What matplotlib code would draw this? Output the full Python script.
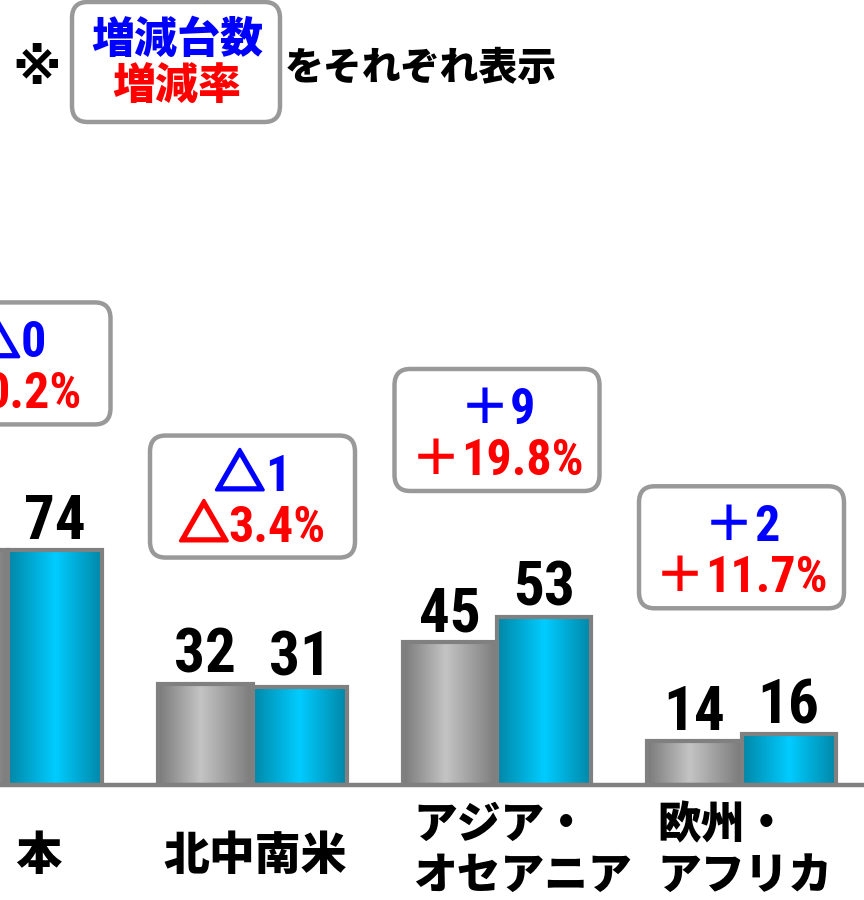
import numpy as np
import matplotlib
matplotlib.use("Agg")
import matplotlib.pyplot as plt
import matplotlib.patheffects as pe
from matplotlib import font_manager
from matplotlib.patches import FancyBboxPatch
from matplotlib.colors import LinearSegmentedColormap

# ---------------- data ----------------
categories = ["日 本", "北中南米", "アジア・\nオセアニア", "欧州・\nアフリカ"]
prev_values = [74, 32, 45, 14]
curr_values = [74, 31, 53, 16]
delta_units = ["△0", "△1", "＋9", "＋2"]
delta_rates = ["△0.2%", "△3.4%", "＋19.8%", "＋11.7%"]
legend_units = "増減台数"
legend_rates = "増減率"
legend_suffix = "をそれぞれ表示"

# ---------------- fonts ----------------
names = {f.name for f in font_manager.fontManager.ttflist}
NUM_FONT = "DejaVu Sans"
for cand in ["Arial Narrow", "Liberation Sans Narrow", "Roboto Condensed",
             "Archivo Narrow", "PT Sans Narrow", "Sofia Sans Condensed"]:
    if cand in names:
        NUM_FONT = cand
        break
JP = "Noto Sans CJK JP"
NUM_FAMILY = [NUM_FONT, JP, "DejaVu Sans"]
JP_FAMILY = [JP, "DejaVu Sans"]
JP_WEIGHT = 900

W, H = 864, 900
fig = plt.figure(figsize=(W / 100, H / 100), dpi=100)
fig.patch.set_facecolor("white")
renderer = fig.canvas.get_renderer()

def fx(px):
    return px / W

def fy(py):
    return 1 - py / H

# axes: baseline at pixel row 785
base_px = 785
y_unit_px = 3.17
ax = fig.add_axes([0, (H - base_px) / H, 1, base_px / H])
ax.set_axis_off()
x_unit_px = 244.5
x0_px = 8
XLIM = (-x0_px / x_unit_px, (W - x0_px) / x_unit_px)
YLIM = (0, base_px / y_unit_px)

x = np.arange(len(categories))
w = 0.385

gray_cmap = LinearSegmentedColormap.from_list(
    "g", [(0, "#7a7a7a"), (0.45, "#c4c4c4"), (1, "#7a7a7a")])
cyan_cmap = LinearSegmentedColormap.from_list(
    "c", [(0, "#0086a6"), (0.5, "#00ccff"), (1, "#0086a6")])

grad = np.linspace(0, 1, 256).reshape(1, -1)

def draw_bars(xpos, vals, cmap):
    bars = ax.bar(xpos, vals, w, facecolor="none", edgecolor="#808080",
                  linewidth=3, zorder=3)
    for b in bars:
        bx, by = b.get_x(), b.get_y()
        im = ax.imshow(grad, extent=(bx, bx + b.get_width(), by, by + b.get_height()),
                       aspect="auto", cmap=cmap, zorder=2, interpolation="bilinear")
        im.set_clip_path(b)
    return bars

draw_bars(x - w / 2, prev_values, gray_cmap)
draw_bars(x + w / 2, curr_values, cyan_cmap)
ax.set_xlim(*XLIM)
ax.set_ylim(*YLIM)

ax.axhline(0, color="#808080", lw=3.2, clip_on=False, zorder=4)

# value labels
for xs, vals in ((x - w / 2, prev_values), (x + w / 2, curr_values)):
    for xi, v in zip(xs, vals):
        ax.annotate(f"{v}", (xi, v), xytext=(0, 8), textcoords="offset points",
                    ha="center", va="baseline", fontsize=44, fontweight="bold",
                    family=NUM_FAMILY, color="black", zorder=5)

# category labels
for xi, lab in zip(x, categories):
    if "\n" in lab:
        ax.text(xi - 84 / x_unit_px, -(850 - base_px) / y_unit_px, lab,
                ha="left", va="center", fontsize=31.5, fontweight=JP_WEIGHT,
                family=JP_FAMILY, linespacing=1.15, clip_on=False)
    else:
        ax.text(xi + 3 / x_unit_px, -(856 - base_px) / y_unit_px, lab,
                ha="center", va="center", fontsize=33, fontweight=JP_WEIGHT,
                family=JP_FAMILY, clip_on=False)

# signed text: sign glyph (CJK) + number (condensed), centred as one unit
def signed_text(cx_px, baseline_px_from_bottom, s, color):
    sign, num = s[0], s[1:]
    yb = baseline_px_from_bottom / H
    t1 = fig.text(0, yb, sign, ha="left", va="baseline", fontsize=36,
                  fontweight="bold", family=JP_FAMILY, color=color, zorder=7)
    if sign == "△":
        t1.set_path_effects([pe.withStroke(linewidth=2.2, foreground=color)])
    t2 = fig.text(0, yb, num, ha="left", va="baseline", fontsize=36,
                  fontweight="bold", family=NUM_FAMILY, color=color, zorder=7)
    w1 = t1.get_window_extent(renderer).width
    w2 = t2.get_window_extent(renderer).width
    left = cx_px - (w1 + w2) / 2
    t1.set_x(left / W)
    t2.set_x((left + w1) / W)

# annotation boxes
inv = fig.transFigure.inverted()
for xi, p, c, du, dr in zip(x, prev_values, curr_values, delta_units, delta_rates):
    top = max(p, c)
    dx, dy = ax.transData.transform((xi, top))
    bw, bh = 205, 122
    (fx0, fy0) = inv.transform((dx - bw / 2, dy + 126))
    box = FancyBboxPatch((fx0, fy0), bw / W, bh / H,
                         boxstyle="round,pad=0,rounding_size=0.018",
                         transform=fig.transFigure, facecolor="white",
                         edgecolor="#999999", linewidth=3.2, zorder=6)
    fig.add_artist(box)
    top_px = dy + 126 + bh
    signed_text(dx, top_px - 55, du, "#0000ff")
    signed_text(dx, top_px - 106, dr, "#ff0000")

# header
fig.text(fx(37), fy(70), "※", ha="center", va="center", fontsize=36,
         fontweight="bold", family=["DejaVu Sans", JP])
hbox = FancyBboxPatch((fx(72), fy(122)), 208 / W, 120 / H,
                      boxstyle="round,pad=0,rounding_size=0.018",
                      transform=fig.transFigure, facecolor="white",
                      edgecolor="#999999", linewidth=3.2)
fig.add_artist(hbox)
fig.text(fx(177), fy(40), legend_units, ha="center", va="center", fontsize=31,
         fontweight=JP_WEIGHT, family=JP_FAMILY, color="#0000ff")
fig.text(fx(177), fy(86), legend_rates, ha="center", va="center", fontsize=31,
         fontweight=JP_WEIGHT, family=JP_FAMILY, color="#ff0000")
fig.text(fx(285), fy(68), legend_suffix, ha="left", va="center", fontsize=28,
         fontweight=JP_WEIGHT, family=JP_FAMILY, color="black")

fig.savefig("out.png", dpi=100, facecolor="white")
